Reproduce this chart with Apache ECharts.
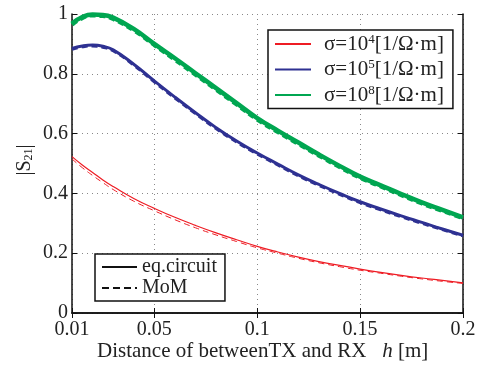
<!DOCTYPE html>
<html><head><meta charset="utf-8">
<script src="https://cdn.jsdelivr.net/npm/echarts@6/dist/echarts.min.js"></script>
<style>html,body{margin:0;padding:0;background:#fff}#c{width:486px;height:365px}</style>
</head><body><div id="c"></div>
<script>
const xs = [0.01,0.015,0.02,0.025,0.03,0.04,0.05,0.06,0.07,0.08,0.09,0.1,0.11,0.12,0.13,0.14,0.15,0.16,0.17,0.18,0.19,0.2];
const greenEq  = [0.968,0.99,0.998,0.997,0.988,0.95,0.90,0.852,0.802,0.752,0.702,0.652,0.61,0.57,0.53,0.492,0.456,0.427,0.398,0.37,0.345,0.32];
const greenMoM = [0.965,0.987,0.996,0.994,0.984,0.946,0.897,0.848,0.798,0.748,0.698,0.648,0.606,0.566,0.527,0.489,0.453,0.424,0.395,0.367,0.342,0.318];
const blueEq   = [0.885,0.893,0.896,0.892,0.880,0.832,0.776,0.722,0.670,0.620,0.575,0.535,0.498,0.462,0.430,0.400,0.372,0.348,0.325,0.303,0.281,0.26];
const blueMoM  = [0.882,0.890,0.893,0.889,0.877,0.829,0.773,0.719,0.667,0.617,0.572,0.532,0.495,0.459,0.427,0.397,0.369,0.345,0.322,0.300,0.279,0.258];
const redEq    = [0.523,0.495,0.47,0.445,0.423,0.383,0.35,0.32,0.293,0.268,0.245,0.223,0.204,0.187,0.172,0.159,0.147,0.136,0.126,0.117,0.109,0.101];
const redMoM   = [0.515,0.486,0.46,0.436,0.413,0.374,0.342,0.312,0.285,0.261,0.239,0.218,0.2,0.183,0.168,0.155,0.143,0.133,0.123,0.114,0.106,0.099];
const xTicks = [0.01,0.05,0.1,0.15,0.2];
const sigmaNames = ['σ=10^4','σ=10^5','σ=10^8'];
const styleNames = ['eq.circuit','MoM'];

const FONT = '"Liberation Serif","DejaVu Serif",serif';
const RED = '#ee1c24', BLUE = '#2e3192', GREEN = '#00a651';
const pair = d => xs.map((x,i)=>[x,d[i]]);

function line(name, data, color, width, dashed) {
  return {
    name, type:'line', data: pair(data), symbol:'none', smooth:true,
    lineStyle:{color, width, type: dashed ? [6,4] : 'solid'}, itemStyle:{color},
    xAxisIndex:0, yAxisIndex:0, silent:true
  };
}

const chart = echarts.init(document.getElementById('c'), null, {renderer:'canvas'});
const axisCommon = {
  axisLine:{show:true, lineStyle:{color:'#111', width:1.5}},
  axisTick:{show:true, inside:true, length:5, lineStyle:{color:'#111', width:1}},
};
chart.setOption({
  animation:false,
  grid:{left:72, right:23, top:14, bottom:52},
  xAxis:[
    Object.assign({type:'value', min:0.01, max:0.2, position:'bottom',
      axisLabel:{customValues:xTicks, margin:7, fontFamily:FONT, fontSize:20, color:'#222', formatter:v=>String(+v.toFixed(2))},
      splitLine:{show:true, lineStyle:{color:'#888', type:[1,4], width:1}}}, axisCommon,
      {axisTick:{show:true, inside:true, length:5, customValues:xTicks, lineStyle:{color:'#111'}}}),
    Object.assign({type:'value', min:0.01, max:0.2, position:'top',
      axisLabel:{show:false}, splitLine:{show:false}}, axisCommon,
      {axisTick:{show:true, inside:true, length:5, customValues:xTicks, lineStyle:{color:'#111'}}})
  ],
  yAxis:[
    Object.assign({type:'value', min:0, max:1, interval:0.2, position:'left',
      axisLabel:{margin:4, fontFamily:FONT, fontSize:20, color:'#222', formatter:v=>String(+v.toFixed(1))},
      splitLine:{show:true, lineStyle:{color:'#888', type:[1,4], width:1}}}, axisCommon),
    Object.assign({type:'value', min:0, max:1, interval:0.2, position:'right',
      axisLabel:{show:false}, splitLine:{show:false}}, axisCommon)
  ],
  legend:[
    {
      data: sigmaNames, orient:'vertical', left:268, top:30, selectedMode:false,
      itemWidth:36, itemHeight:14, itemGap:4, padding:[3,9,3,6],
      itemStyle:{opacity:0, color:'transparent', borderWidth:0},
      borderColor:'#111', borderWidth:1.5, backgroundColor:'#fff',
      formatter: n => { const p = n.split('^'); return '{sp|}{n|' + p[0] + '}{s|' + p[1] + '}{n|[1/Ω·m]}'; },
      textStyle:{fontFamily:FONT, fontSize:21, color:'#222',
        rich:{sp:{width:8}, n:{fontFamily:FONT, fontSize:21, color:'#222'}, s:{fontFamily:FONT, fontSize:13, color:'#222', padding:[0,0,9,0]}}}
    },
    {
      data: styleNames, orient:'vertical', left:95, top:254, selectedMode:false,
      itemWidth:35, itemHeight:14, itemGap:1, padding:[3,8,3,6],
      itemStyle:{opacity:0, color:'transparent', borderWidth:0},
      borderColor:'#111', borderWidth:1.5, backgroundColor:'#fff',
      textStyle:{fontFamily:FONT, fontSize:20, color:'#222'}
    }
  ],
  series:[
    line('σ=10^4 MoM', redMoM, RED, 1, true),
    line(sigmaNames[0], redEq, RED, 1.2, false),
    line('σ=10^5 MoM', blueMoM, BLUE, 3, true),
    line(sigmaNames[1], blueEq, BLUE, 3, false),
    line('σ=10^8 MoM', greenMoM, GREEN, 4.5, true),
    line(sigmaNames[2], greenEq, GREEN, 4.5, false),
    {name:styleNames[0], type:'line', data:[], symbol:'none', lineStyle:{color:'#111', width:2}, itemStyle:{color:'#111'}},
    {name:styleNames[1], type:'line', data:[], symbol:'none', lineStyle:{color:'#111', width:2, type:[7,4]}, itemStyle:{color:'#111'}}
  ],
  graphic:[
    {type:'text', x:97, y:341, style:{
      text:'{n|Distance of betweenTX and RX   }{i|h}{n| [m]}',
      rich:{n:{fontFamily:FONT, fontSize:21, fill:'#222'}, i:{fontFamily:FONT, fontSize:21, fontStyle:'italic', fill:'#222'}}
    }},
    {type:'text', x:25, y:160, rotation:Math.PI/2, style:{
      text:'{n||S}{s|21}{n||}', align:'center', verticalAlign:'middle',
      rich:{n:{fontFamily:FONT, fontSize:20, fill:'#222'}, s:{fontFamily:FONT, fontSize:12, fill:'#222', padding:[8,0,0,0]}}
    }}
  ]
});
</script></body></html>
